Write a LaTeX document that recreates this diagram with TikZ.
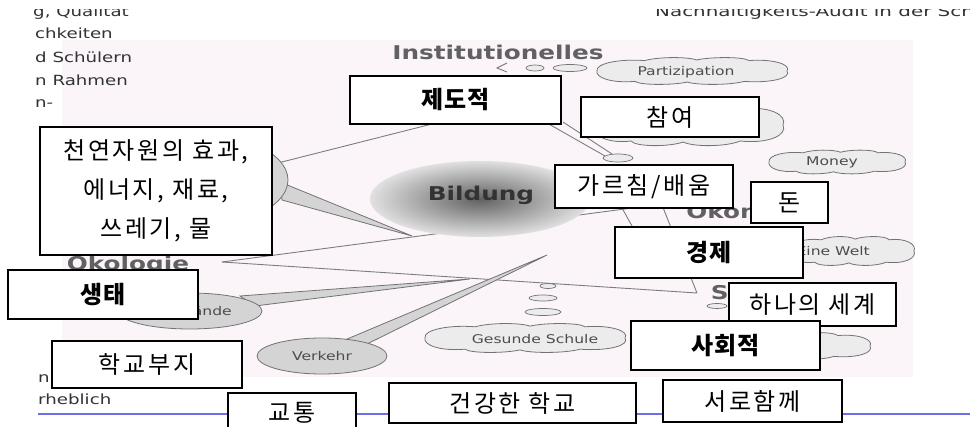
\documentclass[tikz,border=0pt]{standalone}
\usepackage{graphicx}
\usepackage{fontspec}
\setmainfont{DejaVu Sans}
\newfontfamily\krfont{Noto Sans CJK KR}[LetterSpace=11]
\newfontfamily\krbold{Noto Sans CJK KR}[LetterSpace=3]
\usetikzlibrary{shapes.geometric}
\definecolor{panelpink}{RGB}{251,245,250}
\definecolor{slideblue}{RGB}{110,110,232}
\definecolor{linegray}{RGB}{125,125,125}
\definecolor{cloudfill}{RGB}{236,236,236}
\definecolor{calloutfill}{RGB}{212,212,212}
\newcommand{\wide}[1]{\scalebox{1.3}[1]{#1}}
\tikzset{
 kbox/.style={draw=black, line width=1.5pt, fill=white, inner sep=0pt, align=center, font=\krfont\fontsize{24}{39}\selectfont},
 kbold/.style={kbox, font=\krbold\bfseries\fontsize{24}{30}\selectfont},
 dimlabel/.style={text=black!62, font=\bfseries\fontsize{19}{22}\selectfont, inner sep=0pt},
 slidetext/.style={text=black!80, font=\fontsize{14}{16}\selectfont, anchor=base west, inner sep=0pt},
 mapline/.style={draw=linegray, line width=0.9pt},
 cloudstyle/.style={draw=black!55, fill=cloudfill, line width=0.8pt},
 smallbub/.style={ellipse, draw=black!55, fill=cloudfill, line width=0.7pt, inner sep=0pt},
 callout/.style={draw=black!55, fill=calloutfill, line width=0.8pt},
 bubtext/.style={text=black!70, font=\fontsize{12}{14}\selectfont, inner sep=0pt},
}
\newcommand{\drawcloud}[4]{%
 \begin{scope}[shift={(#1,#2)},xscale=#3,yscale=#4]
 \filldraw[cloudstyle] (-1,0) .. controls (-1.02,-0.6) and (-0.75,-0.95) .. (-0.5,-0.8)
  .. controls (-0.35,-1.1) and (-0.05,-1.1) .. (0.05,-0.85)
  .. controls (0.2,-1.1) and (0.55,-1.1) .. (0.6,-0.8)
  .. controls (0.85,-0.95) and (1.05,-0.5) .. (1,0)
  .. controls (1.05,0.5) and (0.85,0.95) .. (0.55,0.8)
  .. controls (0.4,1.1) and (0.05,1.1) .. (-0.05,0.85)
  .. controls (-0.2,1.1) and (-0.55,1.1) .. (-0.6,0.8)
  .. controls (-0.85,0.95) and (-1.02,0.5) .. (-1,0) -- cycle;
 \end{scope}}
\begin{document}
\begin{tikzpicture}[x=1pt,y=-1pt]
\useasboundingbox (0,0) rectangle (970,427);
\fill[white] (0,0) rectangle (970,427);
% panel
\fill[panelpink] (62,40) rectangle (913,377);
% slide text fragments
\node[slidetext] (t1) at (33,17) {\wide{g, Qualität}};
\node[slidetext] (t2) at (35,39) {\wide{chkeiten}};
\node[slidetext] (t3) at (35,63) {\wide{d Schülern}};
\node[slidetext] (t4) at (35,86) {\wide{n Rahmen}};
\node[slidetext] (t5) at (35,108) {\wide{n-}};
\node[slidetext] (t6) at (38,383) {\wide{n}};
\node[slidetext] (t7) at (38,405) {\wide{rheblich}};
\node[slidetext] (t8) at (655,17) {\scalebox{1.42}[1]{Nachhaltigkeits-Audit in der Schule}};
\fill[white] (0,0) rectangle (970,9);
% blue rule
\coordinate (bl) at (38,414);
\coordinate (br) at (970,414);
\draw[slideblue, line width=1.6pt] (bl) -- (br);
% map lines
\coordinate (oekotip) at (222,262);
\coordinate (soztip) at (697,293);
\draw[mapline] (oekotip) -- (640,207);
\draw[mapline] (oekotip) -- (soztip);
\draw[mapline] (660,200) -- (soztip);
\draw[mapline] (270,165) -- (432,124);
\draw[mapline] (547,123) -- (605,156);
\draw[mapline] (563,122) -- (612,154);
\draw[mapline] (612,190) -- (637,235);
% Ressourcen callout
\draw[callout] (280,182) -- (412,236) -- (282,200) -- cycle;
\node[ellipse, callout, minimum width=236, minimum height=104] (ress) at (170,180) {};
% Schulgelaende callout
\draw[callout] (240,296) -- (470,279) -- (255,306) -- cycle;
\node[ellipse, callout, minimum width=144, minimum height=36, inner sep=0pt] (gel) at (190,311) {};
\node[bubtext, anchor=east] (geltext) at (232,312) {\wide{Schulgelände}};
% Verkehr callout
\draw[callout] (340,342) -- (547,255) -- (365,345) -- cycle;
\node[ellipse, callout, minimum width=130, minimum height=36, inner sep=0pt, font=\fontsize{12}{14}\selectfont, text=black!70] (verk) at (322,356) {\wide{Verkehr}};
% Bildung
\node[ellipse, shade, inner color=black!62, outer color=black!12, minimum width=220, minimum height=76] (bild) at (480,199) {};
\node[text=black!80, font=\bfseries\fontsize{19}{22}\selectfont, inner sep=0pt] (bildt) at (481,195) {\wide{Bildung}};
% clouds
\drawcloud{688}{125}{95}{20}
\drawcloud{692}{71}{95}{13}
\node[bubtext] (partizt) at (686,72) {\wide{Partizipation}};
\drawcloud{837}{162}{68}{11.5}
\node[bubtext] (moneyt) at (832,162) {\wide{Money}};
\drawcloud{852}{251}{62}{14}
\node[bubtext, anchor=east] (weltt) at (870,251) {\wide{Eine Welt}};
\drawcloud{525}{338}{100}{14}
\node[bubtext] (gest) at (535,339) {\wide{Gesunde Schule}};
\drawcloud{790}{346}{80}{13}
% small bubbles
\node[smallbub, minimum width=36, minimum height=7] (gb1) at (543,312) {};
\node[smallbub, minimum width=28, minimum height=6] (gb2) at (543,298) {};
\node[smallbub, minimum width=16, minimum height=5] (gb3) at (548,286) {};
\node[smallbub, minimum width=18, minimum height=6] (ib1) at (535,68) {};
\node[smallbub, minimum width=34, minimum height=7] (ib2) at (570,68) {};
\node[smallbub, minimum width=30, minimum height=8] (lb1) at (618,158) {};
\node[smallbub, minimum width=20, minimum height=5] (sb1) at (717,306) {};
\coordinate (itip) at (497,68);
\draw[mapline] (507,63) -- (itip) -- (507,72);
% dimension labels
\node[dimlabel] (inst) at (498,52) {\wide{Institutionelles}};
\node[dimlabel] (oekol) at (128,264) {\wide{Ökologie}};
\node[dimlabel] (oekon) at (756,210) {\wide{Ökonomie}};
\node[dimlabel] (soz) at (768,292) {\wide{Soziales}};
% Korean boxes
\node[kbold, minimum width=211, minimum height=48] (jedo) at (455.5,100) {제도적};
\node[kbox, minimum width=178, minimum height=40] (chamyeo) at (670,117) {참여};
\node[kbox, minimum width=232, minimum height=128] (cheon) at (156,191) {천연자원의 효과,\\에너지, 재료,\\쓰레기, 물};
\node[kbox, minimum width=178, minimum height=43] (gareu) at (644,186.5) {가르침/배움};
\node[kbox, minimum width=77, minimum height=41] (don) at (789.5,202.5) {돈};
\node[kbold, minimum width=188, minimum height=51] (gyeong) at (709,252.5) {경제};
\node[kbold, minimum width=190, minimum height=49] (saeng) at (103,294.5) {생태};
\node[kbox, minimum width=167, minimum height=43] (hana) at (812.5,304.5) {하나의 세계};
\node[kbold, minimum width=189, minimum height=49] (sahoe) at (725.5,345.5) {사회적};
\node[kbox, minimum width=190, minimum height=47] (hakgyo) at (147,364.5) {학교부지};
\node[kbox, minimum width=247, minimum height=40] (geon) at (512.5,403) {건강한 학교};
\node[kbox, minimum width=179, minimum height=42] (seoro) at (752.5,401) {서로함께};
\node[kbox, minimum width=128, minimum height=40] (gyotong) at (292,413) {교통};
\end{tikzpicture}
\end{document}
